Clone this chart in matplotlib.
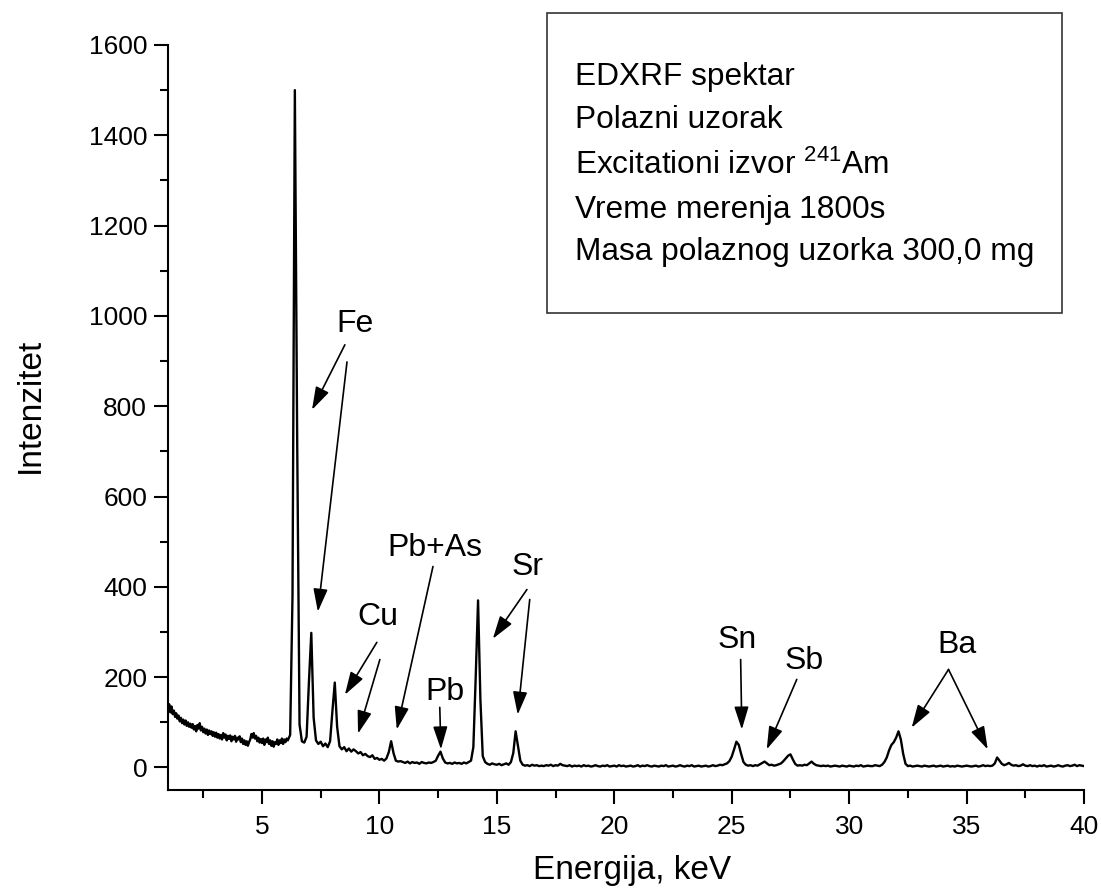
import numpy as np
import matplotlib
matplotlib.use('Agg')
import matplotlib.pyplot as plt
from matplotlib.patches import Rectangle

plt.rcParams['font.family'] = ['Liberation Sans', 'DejaVu Sans']
plt.rcParams['mathtext.fontset'] = 'custom'
plt.rcParams['mathtext.rm'] = 'Liberation Sans'

# low-energy channels (noisy background), 0.05 keV step
energy_low = np.round(np.arange(1.0, 6.19, 0.05), 2)
intensity_low = [
    128, 140, 122, 135, 118, 126, 112, 120, 108, 115, 102, 110, 98, 106, 95, 104, 92, 100, 90, 97,   # 1
    88, 96, 84, 92, 80, 94, 86, 98, 82, 90, 78, 86, 75, 84, 72, 82, 74, 80, 70, 78,                 # 2
    68, 77, 66, 74, 64, 72, 62, 76, 66, 73, 60, 70, 63, 71, 58, 68, 62, 70, 57, 66,                 # 3
    62, 69, 56, 64, 52, 60, 50, 58, 48, 56, 62, 74, 66, 76, 64, 70, 58, 66, 55, 63,                 # 4
    54, 64, 50, 62, 56, 66, 52, 60, 48, 58, 46, 56, 52, 62, 50, 60, 54, 64, 52, 62,                 # 5
    56, 64, 60, 66,                                                                                 # 6.00-6.15
]

# remaining channels, 0.1 keV step, one row per keV
energy_main = np.round(np.arange(6.2, 40.05, 0.1), 1)
intensity_main = [
    72, 380, 1500, 720, 95, 58, 55, 68,                 # 6.2-6.9
    190, 298, 110, 60, 52, 57, 47, 53, 45, 58,          # 7
    125, 188, 90, 47, 40, 45, 36, 42, 35, 40,           # 8
    36, 31, 34, 27, 30, 25, 23, 27, 19, 21,             # 9
    17, 19, 15, 20, 34, 58, 32, 15, 13, 14,             # 10
    12, 10, 13, 9, 12, 10, 11, 8, 12, 10,               # 11
    9, 11, 10, 12, 15, 26, 35, 20, 11, 9,               # 12
    10, 8, 11, 9, 10, 8, 11, 9, 12, 15,                 # 13
    45, 200, 370, 150, 25, 12, 8, 6, 9, 7,              # 14
    6, 8, 5, 7, 9, 6, 12, 32, 80, 48,                   # 15
    15, 6, 4, 5, 3, 6, 4, 5, 3, 4,                      # 16
    3, 5, 4, 6, 3, 5, 4, 8, 5, 4,                       # 17
    3, 5, 2, 4, 3, 4, 2, 5, 3, 4,                       # 18
    2, 3, 5, 3, 2, 4, 3, 5, 2, 3,                       # 19
    4, 2, 5, 3, 4, 2, 3, 4, 2, 3,                       # 20
    5, 2, 4, 3, 5, 3, 2, 4, 3, 2,                       # 21
    4, 3, 5, 2, 3, 4, 2, 3, 5, 3,                       # 22
    2, 4, 3, 5, 2, 3, 4, 2, 3, 4,                       # 23
    2, 3, 5, 3, 4, 6, 5, 7, 9, 14,                      # 24
    24, 40, 57, 50, 30, 12, 6, 4, 5, 3,                 # 25
    5, 4, 7, 10, 13, 9, 5, 6, 4, 5,                     # 26
    7, 9, 14, 20, 26, 29, 18, 8, 4, 5,                  # 27
    4, 6, 5, 9, 13, 8, 5, 4, 3, 4,                      # 28
    3, 4, 2, 3, 4, 3, 2, 4, 3, 2,                       # 29
    4, 3, 2, 4, 3, 5, 2, 3, 4, 3,                       # 30
    3, 5, 4, 3, 6, 12, 22, 38, 50, 56,                  # 31
    66, 80, 62, 30, 8, 3, 4, 2, 3, 4,                   # 32
    3, 2, 4, 3, 2, 3, 4, 2, 3, 4,                       # 33
    2, 3, 4, 2, 3, 2, 4, 3, 2, 3,                       # 34
    4, 3, 2, 3, 4, 2, 3, 5, 3, 4,                       # 35
    3, 4, 9, 22, 15, 8, 5, 7, 10, 6,                    # 36
    4, 5, 3, 4, 7, 4, 3, 5, 3, 4,                       # 37
    2, 4, 3, 5, 2, 3, 4, 2, 3, 5,                       # 38
    3, 2, 4, 5, 3, 4, 6, 3, 5, 4,                       # 39
    3,                                                  # 40
]

# peak labels: text position (keV, counts)
label_names = ['Fe', 'Cu', 'Pb+As', 'Pb', 'Sr', 'Sn', 'Sb', 'Ba']
label_x = [8.96, 9.94, 12.36, 12.79, 16.32, 25.21, 28.06, 34.57]
label_y = [982, 334, 487, 168, 445, 283, 235, 272]

# arrows: (start x, start y, tip x, tip y)
arrow_lines = [
    (8.53, 936, 7.13, 792),
    (8.62, 898, 7.38, 345),
    (9.89, 277, 8.53, 161),
    (10.02, 239, 9.09, 75),
    (12.28, 445, 10.74, 84),
    (12.57, 133, 12.62, 40),
    (16.28, 394, 14.83, 285),
    (16.40, 372, 15.89, 117),
    (25.38, 239, 25.43, 84),
    (27.77, 195, 26.49, 40),
    (34.23, 217, 32.66, 88),
    (34.23, 217, 35.90, 40),
]

info_lines = [
    'EDXRF spektar',
    'Polazni uzorak',
    r'Excitationi izvor $\mathregular{^{241}}$Am',
    'Vreme merenja 1800s',
    'Masa polaznog uzorka 300,0 mg',
]

energy = np.concatenate([energy_low, energy_main])
intensity = np.concatenate([intensity_low, intensity_main])

fig = plt.figure(figsize=(11.01, 8.94), dpi=100)
ax = fig.add_axes([0.1526, 0.1163, 0.8320, 0.8334])

ax.plot(energy, intensity, color='black', lw=1.7)

ax.set_xlim(1, 40)
ax.set_ylim(-50, 1600)
ax.set_xticks([5, 10, 15, 20, 25, 30, 35, 40])
ax.set_xticks(np.arange(2.5, 40, 5), minor=True)
ax.set_yticks(np.arange(0, 1601, 200))
ax.set_yticks(np.arange(100, 1600, 200), minor=True)

for side in ['top', 'right']:
    ax.spines[side].set_visible(False)
for side in ['left', 'bottom']:
    ax.spines[side].set_linewidth(1.5)

ax.tick_params(which='major', direction='out', length=10, width=1.5,
               labelsize=19, pad=5)
ax.tick_params(axis='x', which='major', pad=8)
ax.tick_params(which='minor', direction='out', length=6, width=1.5)

for name, tx, ty in zip(label_names, label_x, label_y):
    ax.text(tx, ty, name, fontsize=23, ha='center', va='center')

for x0, y0, x1, y1 in arrow_lines:
    ax.annotate('', xy=(x1, y1), xytext=(x0, y0),
                arrowprops=dict(arrowstyle='-|>,head_length=0.7,head_width=0.22',
                                mutation_scale=20, color='black', lw=1.2,
                                shrinkA=0, shrinkB=0))

fig.text(30 / 1101, 1 - 405 / 894, 'Intenzitet', rotation=90,
         fontsize=24, ha='center', va='center')
fig.text(632 / 1101, 1 - 870 / 894, 'Energija, keV',
         fontsize=24, ha='center', va='center')

# info box
box = Rectangle((547 / 1101, 1 - 313 / 894), 515 / 1101, 300 / 894,
                transform=fig.transFigure, fill=False,
                edgecolor='#333333', lw=1.2)
fig.add_artist(box)
line_y = [77, 120, 165, 210, 252]
for txt, py in zip(info_lines, line_y):
    fig.text(575 / 1101, 1 - py / 894, txt, fontsize=22.8,
             ha='left', va='center')

fig.savefig('out.png', dpi=100)
